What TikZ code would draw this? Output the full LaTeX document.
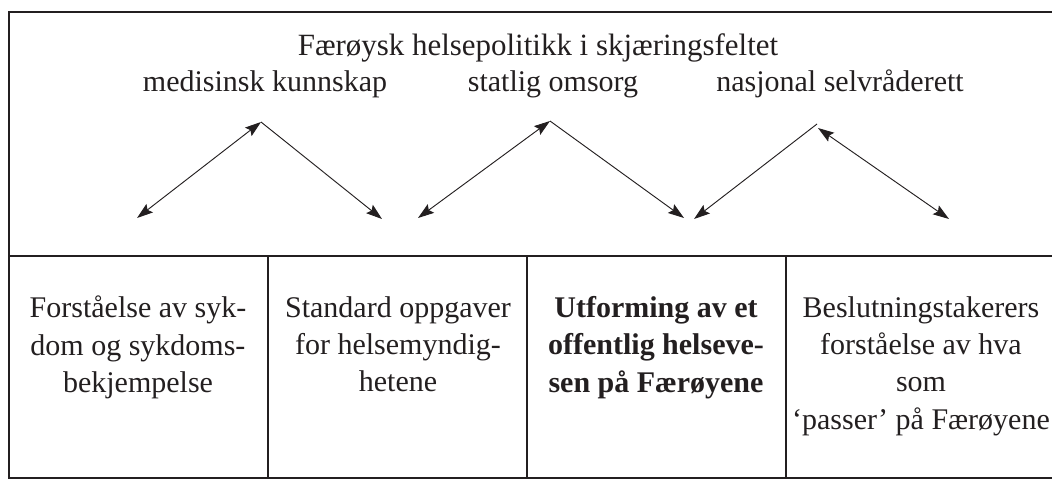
\documentclass[tikz,border=0pt]{standalone}
\usepackage{fontspec}
\setmainfont{Liberation Serif}
\usepackage{xcolor}
\definecolor{inkDark}{HTML}{231F20}
\usepackage{tikz}
\usetikzlibrary{arrows.meta,positioning,calc}
\tikzset{%
  frameLine/.style={%
    draw=inkDark,
    line width=1.6pt
  },
  arrowLine/.style={%
    -{Stealth[length=12pt,width=8pt,inset=2pt]},
    line width=0.7pt,
    color=inkDark
  },
  bothLine/.style={%
    {Stealth[length=12pt,width=8pt,inset=2pt]}-{Stealth[length=12pt,width=8pt,inset=2pt]},
    line width=0.7pt,
    color=inkDark
  },
  headText/.style={%
    anchor=base,
    inner sep=0pt,
    text=inkDark,
    font=\fontsize{22.5pt}{28pt}\selectfont
  },
  cellText/.style={%
    anchor=north,
    inner sep=0pt,
    align=center,
    text=inkDark,
    font=\fontsize{22.5pt}{28pt}\selectfont
  }
}

\begin{document}
\begin{tikzpicture}[x=0.75pt,y=-0.75pt]
  \useasboundingbox (0,0) rectangle (1052,481);

  % frame and cells
  \draw[frameLine] (1052,12) -- (9,12) -- (9,478) -- (1052,478);
  \draw[frameLine] (9,256) -- (1052,256);
  \draw[frameLine] (268,256) -- (268,478);
  \draw[frameLine] (527,256) -- (527,478);
  \draw[frameLine] (786,256) -- (786,478);

  \node[headText, font=\fontsize{23.2pt}{28pt}\selectfont] (title) at (538,56) {Færøysk helsepolitikk i skjæringsfeltet};
  \node[headText] (medisin) at (265,92) {medisinsk kunnskap};
  \node[headText] (statlig) at (553,92) {statlig omsorg};
  \node[headText] (nasjonal) at (840,92) {nasjonal selvråderett};

  \coordinate (peakA) at (261,122);
  \coordinate (footA1) at (137,218);
  \coordinate (footA2) at (382,219);
  \coordinate (peakB) at (550,121);
  \coordinate (footB1) at (418,218);
  \coordinate (footB2) at (684,218);
  \coordinate (peakC) at (817,124);
  \coordinate (peakCr) at (818,128);
  \coordinate (footC1) at (694,219);
  \coordinate (footC2) at (949,219);

  \draw[bothLine] (footA1) -- (peakA);
  \draw[arrowLine] (peakA) -- (footA2);
  \draw[bothLine] (footB1) -- (peakB);
  \draw[arrowLine] (peakB) -- (footB2);
  \draw[arrowLine] (peakC) -- (footC1);
  \draw[bothLine] (peakCr) -- (footC2);

  \node[cellText] (sykdom) at (138,296) {Forståelse av syk-\\dom og sykdoms-\\bekjempelse};
  \node[cellText] (oppgaver) at (398,296) {Standard oppgaver\\for helsemyndig-\\hetene};
  \node[cellText, font=\fontsize{22.5pt}{28pt}\selectfont\bfseries] (utforming) at (656,296) {Utforming av et\\offentlig helseve-\\sen på Færøyene};
  \node[cellText] (passer) at (921,296) {Beslutningstakerers\\forståelse av hva\\som\\‘passer’ på Færøyene};
\end{tikzpicture}
\end{document}
